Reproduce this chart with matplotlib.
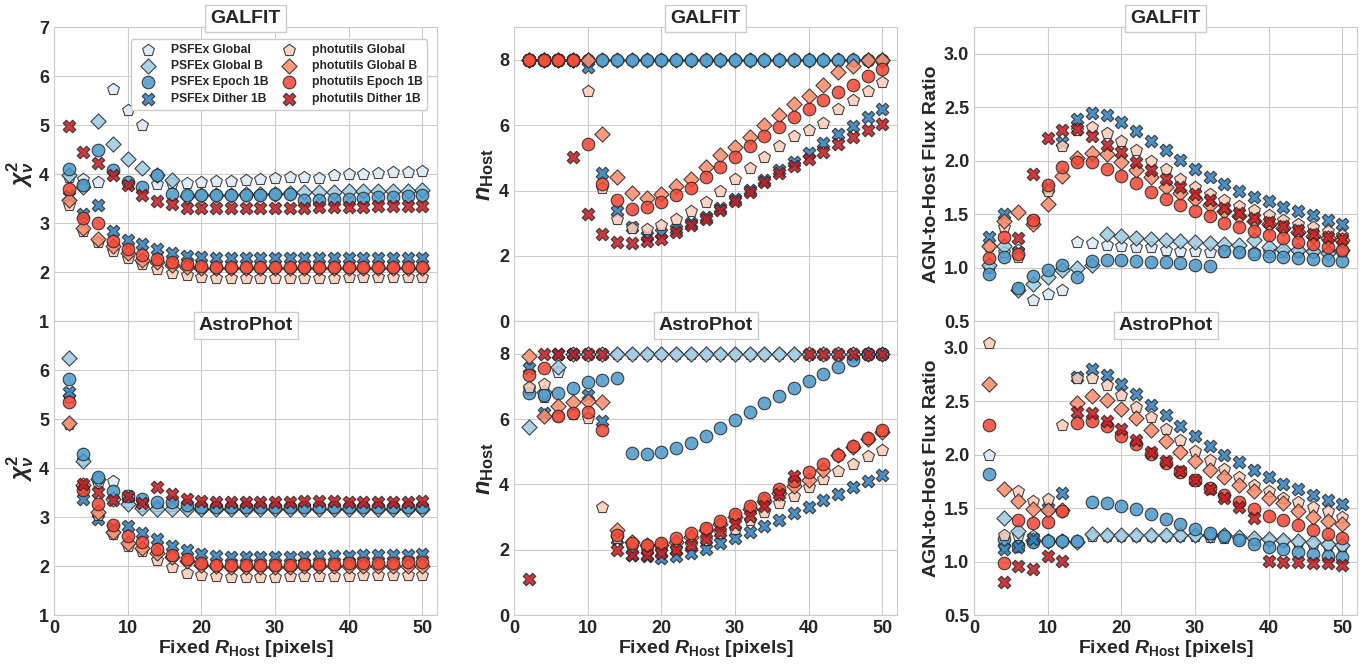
import numpy as np
import matplotlib
matplotlib.use("Agg")
import matplotlib.pyplot as plt
import seaborn as sns

nan = np.nan

r_host = [2, 4, 6, 8, 10, 12, 14, 16, 18, 20, 22, 24, 26, 28, 30, 32, 34, 36, 38, 40, 42, 44, 46, 48, 50]

labels = ['PSFEx Global', 'PSFEx Global B', 'PSFEx Epoch 1B', 'PSFEx Dither 1B',
          'photutils Global', 'photutils Global B', 'photutils Epoch 1B', 'photutils Dither 1B']

# ---- GALFIT reduced chi2
g_chi_pg = [3.95, 3.9, 3.84, 5.73, 5.31, 5.0, 3.81, 3.82, 3.83, 3.84, 3.86, 3.87, 3.88, 3.9, 3.92, 3.94, 3.95, 3.93, 3.99, 4.0, 4.01, 4.03, 4.04, 4.05, 4.06]
g_chi_pgb = [3.98, 3.73, 5.09, 4.61, 4.31, 4.12, 3.98, 3.88, 3.56, 3.57, 3.58, 3.58, 3.59, 3.6, 3.6, 3.61, 3.63, 3.64, 3.64, 3.65, 3.65, 3.66, 3.66, 3.66, 3.67]
g_chi_pe = [4.1, 3.79, 4.49, 4.08, 3.84, 3.73, 3.98, 3.6, 3.57, 3.57, 3.57, 3.57, 3.58, 3.58, 3.59, 3.6, 3.48, 3.48, 3.5, 3.5, 3.51, 3.53, 3.54, 3.55, 3.57]
g_chi_pd = [3.55, 3.19, 3.38, 2.84, 2.66, 2.57, 2.48, 2.4, 2.34, 2.31, 2.29, 2.28, 2.28, 2.28, 2.28, 2.28, 2.28, 2.28, 2.28, 2.28, 2.29, 2.29, 2.29, 2.29, 2.3]
g_chi_ug = [3.37, 2.84, 2.62, 2.43, 2.29, 2.17, 2.07, 1.99, 1.94, 1.91, 1.89, 1.89, 1.89, 1.89, 1.89, 1.89, 1.89, 1.89, 1.89, 1.9, 1.9, 1.9, 1.9, 1.9, 1.91]
g_chi_ugb = [3.47, 2.9, 2.68, 2.53, 2.39, 2.25, 2.2, 2.14, 2.1, 2.09, 2.08, 2.08, 2.08, 2.08, 2.08, 2.08, 2.08, 2.08, 2.08, 2.09, 2.09, 2.09, 2.09, 2.09, 2.09]
g_chi_ue = [3.69, 3.1, 3.0, 2.63, 2.48, 2.36, 2.27, 2.2, 2.16, 2.12, 2.1, 2.1, 2.1, 2.1, 2.1, 2.1, 2.1, 2.1, 2.1, 2.1, 2.1, 2.1, 2.1, 2.1, 2.1]
g_chi_ud = [4.98, 4.46, 4.22, 3.98, 3.77, 3.58, 3.46, 3.39, 3.32, 3.31, 3.31, 3.31, 3.31, 3.31, 3.31, 3.31, 3.32, 3.33, 3.33, 3.34, 3.34, 3.35, 3.35, 3.36, 3.36]

# ---- AstroPhot reduced chi2
a_chi_pg = [5.45, 4.16, 3.7, 3.73, 3.3, 3.22, 3.22, 3.22, 3.21, 3.21, 3.21, 3.21, 3.21, 3.21, 3.21, 3.21, 3.21, 3.21, 3.21, 3.21, 3.21, 3.21, 3.21, 3.21, 3.21]
a_chi_pgb = [6.25, 4.14, 3.78, 3.37, 3.27, 3.18, 3.17, 3.17, 3.17, 3.17, 3.17, 3.17, 3.17, 3.17, 3.17, 3.17, 3.17, 3.17, 3.17, 3.17, 3.17, 3.17, 3.17, 3.17, 3.17]
a_chi_pe = [5.82, 4.28, 3.82, 3.54, 3.44, 3.37, 3.3, 3.3, 3.25, 3.21, 3.21, 3.2, 3.2, 3.2, 3.2, 3.2, 3.2, 3.2, 3.2, 3.2, 3.2, 3.2, 3.2, 3.2, 3.2]
a_chi_pd = [5.56, 3.37, 2.97, 2.78, 2.81, 2.68, 2.56, 2.41, 2.33, 2.24, 2.2, 2.19, 2.18, 2.18, 2.18, 2.18, 2.19, 2.2, 2.21, 2.21, 2.22, 2.22, 2.23, 2.23, 2.24]
a_chi_ug = [4.9, 3.6, 3.05, 2.65, 2.42, 2.3, 2.12, 1.98, 1.87, 1.81, 1.79, 1.78, 1.78, 1.78, 1.78, 1.79, 1.79, 1.8, 1.8, 1.8, 1.81, 1.81, 1.81, 1.82, 1.82]
a_chi_ugb = [4.93, 3.66, 3.1, 2.69, 2.48, 2.38, 2.27, 2.19, 2.1, 2.03, 2.0, 1.99, 1.99, 1.99, 1.99, 1.99, 2.0, 2.0, 2.0, 2.0, 2.0, 2.0, 2.0, 2.0, 2.0]
a_chi_ue = [5.36, 3.56, 3.27, 2.84, 2.62, 2.49, 2.34, 2.22, 2.14, 2.07, 2.03, 2.02, 2.02, 2.02, 2.02, 2.03, 2.04, 2.05, 2.05, 2.06, 2.06, 2.07, 2.07, 2.08, 2.08]
a_chi_ud = [nan, 3.68, 3.51, 3.34, 3.44, 3.28, 3.61, 3.47, 3.37, 3.32, 3.3, 3.3, 3.3, 3.3, 3.3, 3.31, 3.32, 3.32, 3.33, 3.3, 3.3, 3.3, 3.3, 3.31, 3.32]

# ---- GALFIT Sersic index
g_n_pg = [8, 8, 8, 8, 8, 8, 8, 8, 8, 8, 8, 8, 8, 8, 8, 8, 8, 8, 8, 8, 8, 8, 8, 8, 8]
g_n_pgb = [8, 8, 8, 8, 8, 8, 8, 8, 8, 8, 8, 8, 8, 8, 8, 8, 8, 8, 8, 8, 8, 8, 8, 8, 8]
g_n_pe = [8, 8, 8, 8, 8, 8, 8, 8, 8, 8, 8, 8, 8, 8, 8, 8, 8, 8, 8, 8, 8, 8, 8, 8, 8]
g_n_pd = [8, 8, 8, 8, 7.79, 4.54, 3.36, 2.87, 2.6, 2.69, 2.82, 3.0, 3.2, 3.47, 3.73, 4.03, 4.33, 4.62, 4.88, 5.16, 5.46, 5.72, 5.98, 6.26, 6.5]
g_n_ug = [8, 8, 8, 8, 7.06, 4.07, 3.13, 2.84, 2.81, 2.95, 3.13, 3.38, 3.66, 3.98, 4.34, 4.68, 5.03, 5.36, 5.66, 5.85, 6.07, 6.51, 6.77, 7.06, 7.31]
g_n_ugb = [8, 8, 8, 8, 8, 5.74, 4.43, 3.92, 3.76, 3.9, 4.13, 4.36, 4.72, 5.08, 5.33, 5.64, 6.01, 6.31, 6.64, 6.89, 7.23, 7.64, 7.8, 8, 8]
g_n_ue = [8, 8, 8, 8, 5.44, 4.2, 3.71, 3.44, 3.49, 3.64, 3.85, 4.08, 4.41, 4.72, 5.03, 5.35, 5.66, 5.95, 6.26, 6.51, 6.77, 7.02, 7.24, 7.51, 7.72]
g_n_ud = [nan, nan, nan, 5.04, 3.28, 2.67, 2.44, 2.39, 2.46, 2.53, 2.72, 2.94, 3.13, 3.4, 3.69, 3.95, 4.26, 4.53, 4.75, 4.97, 5.19, 5.44, 5.64, 5.85, 6.05]

# ---- AstroPhot Sersic index
a_n_pg = [6.93, 6.67, 7.44, 8, 8, 8, 8, 8, 8, 8, 8, 8, 8, 8, 8, 8, 8, 8, 8, 8, 8, 8, 8, 8, 8]
a_n_pgb = [5.77, 6.84, 7.61, 8, 8, 8, 8, 8, 8, 8, 8, 8, 8, 8, 8, 8, 8, 8, 8, 8, 8, 8, 8, 8, 8]
a_n_pe = [6.8, 6.75, 6.8, 6.95, 7.13, 7.2, 7.25, 4.95, 4.93, 4.98, 5.11, 5.26, 5.47, 5.72, 5.98, 6.23, 6.49, 6.72, 6.96, 7.18, 7.39, 7.59, 7.8, 8, 8]
a_n_pd = [7.56, 6.2, 8, 8, 6.74, 5.95, 2.32, 1.85, 1.8, 1.75, 1.82, 1.9, 2.03, 2.2, 2.37, 2.55, 2.73, 2.92, 3.13, 3.32, 3.53, 3.72, 3.91, 4.1, 4.28]
a_n_ug = [7.0, 7.08, 6.1, 6.15, 6.04, 3.31, 2.35, 2.1, 2.0, 2.0, 2.05, 2.15, 2.3, 2.5, 2.65, 2.9, 3.15, 3.42, 3.65, 3.91, 4.16, 4.4, 4.64, 4.86, 5.05]
a_n_ugb = [7.93, 6.09, 6.39, 6.54, 6.57, 6.54, 2.6, 2.25, 2.15, 2.15, 2.25, 2.4, 2.6, 2.78, 3.0, 3.25, 3.5, 3.75, 3.95, 4.15, 4.45, 4.9, 5.15, 5.4, 5.6]
a_n_ue = [7.36, 7.57, 6.09, 6.18, 6.21, 5.67, 2.44, 2.22, 2.15, 2.22, 2.35, 2.5, 2.68, 2.88, 3.1, 3.35, 3.6, 3.85, 4.1, 4.37, 4.63, 4.9, 5.18, 5.42, 5.67]
a_n_ud = [1.11, 8, 8, 8, 8, 8, 2.0, 1.85, 1.83, 1.9, 2.0, 2.15, 2.32, 2.55, 2.78, 3.03, 3.35, 3.7, 4.25, 8, 8, 8, 8, 8, 8]

# ---- GALFIT AGN-to-host flux ratio
g_f_pg = [1.0, 1.15, 1.17, 0.7, 0.75, 0.79, 1.24, 1.23, 1.21, 1.2, 1.19, 1.19, 1.17, 1.16, 1.16, 1.15, 1.15, 1.15, 1.15, 1.15, 1.15, 1.15, 1.15, 1.15, 1.15]
g_f_pgb = [1.03, 1.2, 0.79, 0.85, 0.91, 0.98, 1.0, 1.03, 1.32, 1.3, 1.28, 1.27, 1.26, 1.25, 1.24, 1.23, 1.22, 1.21, 1.26, 1.19, 1.18, 1.17, 1.16, 1.14, 1.17]
g_f_pe = [0.94, 1.1, 0.81, 0.92, 0.98, 1.03, 0.91, 1.06, 1.07, 1.07, 1.06, 1.05, 1.05, 1.04, 1.03, 1.02, 1.16, 1.15, 1.13, 1.11, 1.1, 1.09, 1.08, 1.07, 1.06]
g_f_pd = [1.29, 1.5, 1.15, 1.44, 1.75, 2.18, 2.39, 2.45, 2.43, 2.36, 2.28, 2.19, 2.1, 2.01, 1.92, 1.85, 1.78, 1.72, 1.66, 1.62, 1.57, 1.53, 1.49, 1.45, 1.41]
g_f_ug = [1.2, 1.38, 1.1, 1.42, 1.72, 2.14, 2.29, 2.32, 2.26, 2.19, 2.1, 2.0, 1.92, 1.83, 1.76, 1.69, 1.63, 1.58, 1.54, 1.49, 1.45, 1.41, 1.38, 1.34, 1.31]
g_f_ugb = [1.2, 1.44, 1.52, 1.41, 1.6, 1.86, 2.03, 2.07, 2.06, 1.99, 1.91, 1.85, 1.76, 1.7, 1.64, 1.59, 1.53, 1.48, 1.44, 1.41, 1.37, 1.33, 1.3, 1.28, 1.26]
g_f_ue = [1.09, 1.29, 1.13, 1.45, 1.77, 1.94, 1.99, 1.99, 1.92, 1.86, 1.79, 1.71, 1.64, 1.59, 1.53, 1.48, 1.42, 1.38, 1.34, 1.31, 1.28, 1.24, 1.22, 1.19, 1.17]
g_f_ud = [nan, nan, 1.28, 1.88, 2.21, 2.29, 2.3, 2.23, 2.15, 2.08, 1.99, 1.91, 1.83, 1.76, 1.69, 1.63, 1.56, 1.51, 1.47, 1.43, 1.39, 1.35, 1.32, 1.29, 1.27]

# ---- AstroPhot AGN-to-host flux ratio
a_f_pg = [2.0, 1.15, 1.25, 1.24, 1.2, 1.2, 1.19, 1.24, 1.24, 1.24, 1.24, 1.24, 1.24, 1.24, 1.24, 1.23, 1.22, 1.21, 1.2, 1.2, 1.19, 1.18, 1.17, 1.16, 1.15]
a_f_pgb = [nan, 1.41, 1.29, 1.2, 1.19, 1.19, 1.18, 1.26, 1.25, 1.25, 1.25, 1.25, 1.25, 1.25, 1.25, 1.25, 1.25, 1.23, 1.22, 1.21, 1.2, 1.19, 1.18, 1.17, 1.16]
a_f_pe = [1.82, 1.21, 1.15, 1.18, 1.19, 1.19, 1.19, 1.56, 1.55, 1.52, 1.49, 1.45, 1.4, 1.35, 1.31, 1.27, 1.24, 1.2, 1.17, 1.14, 1.12, 1.09, 1.07, 1.05, 1.04]
a_f_pd = [nan, 1.12, 1.14, 1.21, 1.5, 1.64, 2.73, 2.8, 2.75, 2.66, 2.57, 2.47, 2.37, 2.27, 2.18, 2.08, 2.0, 1.93, 1.86, 1.79, 1.73, 1.68, 1.62, 1.58, 1.54]
a_f_ug = [3.05, 1.25, 1.66, 1.57, 1.59, 2.28, 2.72, 2.72, 2.65, 2.56, 2.45, 2.35, 2.24, 2.14, 2.04, 1.95, 1.87, 1.79, 1.72, 1.66, 1.6, 1.56, 1.51, 1.47, 1.42]
a_f_ugb = [2.66, 1.68, 1.57, 1.49, 1.48, 1.48, 2.48, 2.55, 2.51, 2.43, 2.34, 2.23, 2.13, 2.03, 1.94, 1.86, 1.79, 1.72, 1.66, 1.6, 1.55, 1.47, 1.42, 1.38, 1.35]
a_f_ue = [2.28, 0.99, 1.39, 1.36, 1.37, 1.47, 2.3, 2.32, 2.27, 2.18, 2.1, 2.01, 1.92, 1.84, 1.76, 1.69, 1.62, 1.56, 1.49, 1.43, 1.39, 1.34, 1.3, 1.26, 1.22]
a_f_ud = [nan, 0.81, 0.96, 0.93, 1.05, 1.01, 2.4, 2.39, 2.32, 2.24, 2.14, 2.03, 1.94, 1.85, 1.76, 1.68, 1.6, 1.51, 1.41, 1.01, 1.0, 1.0, 0.99, 0.99, 0.97]

# marker style per series (same order as labels)
markers = ['p', 'D', 'o', 'X', 'p', 'D', 'o', 'X']
colors = ['#dbe9f6', '#9ecae1', '#4a98c9', '#2b7bba',
          '#fdcdb9', '#fc8a6a', '#f14432', '#c4161c']
sizes = [80, 60, 82, 82, 80, 60, 82, 82]

sns.set_style("whitegrid")
plt.rcParams['font.family'] = ['Liberation Sans', 'DejaVu Sans']
plt.rcParams['font.weight'] = 'bold'
plt.rcParams['axes.labelweight'] = 'bold'
plt.rcParams['mathtext.fontset'] = 'custom'
plt.rcParams['mathtext.rm'] = 'Liberation Sans:bold'
plt.rcParams['mathtext.bf'] = 'Liberation Sans:bold'
plt.rcParams['mathtext.it'] = 'Liberation Sans:italic:bold'

fig, axes = plt.subplots(2, 3, figsize=(13.68, 6.65), dpi=100, sharex='col',
                         gridspec_kw=dict(hspace=0, wspace=0.201))
fig.subplots_adjust(left=0.0395, right=0.992, top=0.959, bottom=0.075)

panels = [
    (axes[0, 0], [g_chi_pg, g_chi_pgb, g_chi_pe, g_chi_pd, g_chi_ug, g_chi_ugb, g_chi_ue, g_chi_ud]),
    (axes[1, 0], [a_chi_pg, a_chi_pgb, a_chi_pe, a_chi_pd, a_chi_ug, a_chi_ugb, a_chi_ue, a_chi_ud]),
    (axes[0, 1], [g_n_pg, g_n_pgb, g_n_pe, g_n_pd, g_n_ug, g_n_ugb, g_n_ue, g_n_ud]),
    (axes[1, 1], [a_n_pg, a_n_pgb, a_n_pe, a_n_pd, a_n_ug, a_n_ugb, a_n_ue, a_n_ud]),
    (axes[0, 2], [g_f_pg, g_f_pgb, g_f_pe, g_f_pd, g_f_ug, g_f_ugb, g_f_ue, g_f_ud]),
    (axes[1, 2], [a_f_pg, a_f_pgb, a_f_pe, a_f_pd, a_f_ug, a_f_ugb, a_f_ue, a_f_ud]),
]

for ax, series in panels:
    for vals, lab, m, c, s in zip(series, labels, markers, colors, sizes):
        ax.scatter(r_host, vals, marker=m, s=s, color=c, edgecolor='0.15',
                   linewidth=0.8, alpha=0.85, label=lab, zorder=3)
    ax.set_xlim(0, 52)
    ax.tick_params(labelsize=13, length=0)
    for sp in ax.spines.values():
        sp.set_color('0.8')

# y ranges / ticks
axes[0, 0].set_ylim(1, 7)
axes[0, 0].set_yticks([1, 2, 3, 4, 5, 6, 7])
axes[1, 0].set_ylim(1, 7)
axes[1, 0].set_yticks([1, 2, 3, 4, 5, 6])
axes[0, 1].set_ylim(0, 9)
axes[0, 1].set_yticks([0, 2, 4, 6, 8])
axes[1, 1].set_ylim(0, 9)
axes[1, 1].set_yticks([0, 2, 4, 6, 8])
for ax in axes[:, 2]:
    ax.set_ylim(0.5, 3.25)
    ax.set_yticks([0.5, 1.0, 1.5, 2.0, 2.5, 3.0])
for ax in axes[1]:
    ax.set_xticks([0, 10, 20, 30, 40, 50])
    ax.set_xlabel(r'Fixed $R_{\mathrm{Host}}$ [pixels]', fontsize=14, labelpad=1)

for ax in axes[:, 0]:
    ax.set_ylabel(r'$\chi^2_{\nu}$', fontsize=17, labelpad=2)
for ax in axes[:, 1]:
    ax.set_ylabel(r'$n_{\mathrm{Host}}$', fontsize=17, labelpad=2)
for ax in axes[:, 2]:
    ax.set_ylabel('AGN-to-Host Flux Ratio', fontsize=14, labelpad=3)

box = dict(boxstyle='square,pad=0.25', facecolor='white', edgecolor='0.8')
for ax in axes[0]:
    ax.text(0.5, 1.029, 'GALFIT', transform=ax.transAxes, ha='center', va='center',
            fontsize=14, bbox=box, zorder=10, clip_on=False)
for ax in axes[1]:
    ax.text(0.5, 0.985, 'AstroPhot', transform=ax.transAxes, ha='center', va='center',
            fontsize=14, bbox=box, zorder=10, clip_on=False)

axes[0, 0].legend(ncol=2, loc='upper right', prop=dict(weight='bold', size=8.7),
                  frameon=True, framealpha=1, edgecolor='0.8', handletextpad=0.9,
                  columnspacing=0.7, labelspacing=0.35, borderpad=0.4,
                  bbox_to_anchor=(0.99, 0.98))

fig.savefig('out.png', dpi=100)
